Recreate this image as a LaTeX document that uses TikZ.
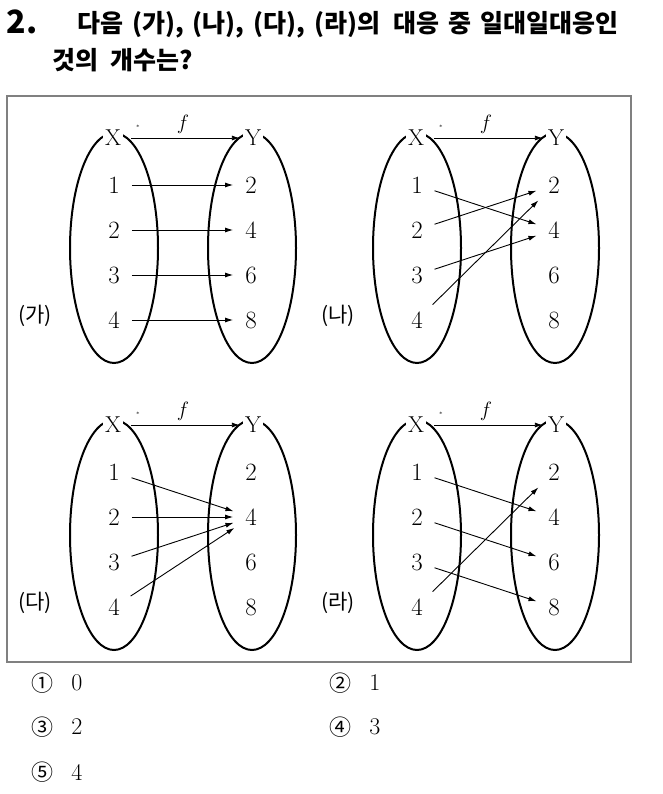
\documentclass[tikz,border=0pt]{standalone}
\usepackage{fontspec}
\newfontfamily\kor{Noto Sans CJK KR}
\usetikzlibrary{arrows.meta}

\tikzset{
	setline/.style={line width=2pt},
	maparrow/.style={-{Latex[length=8pt,width=5pt]}, line width=0.9pt, shorten <=8pt, shorten >=8pt},
	elem/.style={inner sep=4pt, font=\fontsize{23}{23}\selectfont},
	setname/.style={fill=white, inner sep=2pt, font=\fontsize{23}{23}\selectfont},
	question/.style={anchor=west, inner sep=0pt, font=\kor\bfseries\fontsize{25}{25}\selectfont},
}

\begin{document}
\begin{tikzpicture}[x=1pt,y=-1pt]
	\useasboundingbox (0,0) rectangle (662,794);
	\node[font=\kor\bfseries\fontsize{32}{32}\selectfont] (num) at (22,22) {2.};	% question
	\node[question] (q1) at (77,25) {다음\hspace{9pt}(가),\hspace{9pt}(나),\hspace{9pt}(다),\hspace{9pt}(라)의\hspace{13pt}대응\hspace{9pt}중\hspace{9pt}일대일대응인};
	\node[question] (q2) at (52,60) {것의\hspace{12pt}개수는?};

	\draw[gray, line width=1.6pt] (7,96) rectangle (631,662);	% frame

	\foreach \p/\dx/\dy/\lab in {A/0/0/가, B/303/0/나, C/0/287/다, D/303/287/라}
	{
		\draw[setline] (114+\dx,248+\dy) ellipse [x radius=44pt, y radius=115pt];	% sets
		\draw[setline] (252+\dx,248+\dy) ellipse [x radius=44pt, y radius=115pt];
		\node[setname] (\p-X) at (113+\dx,138+\dy) {X};
		\node[setname] (\p-Y) at (253+\dx,138+\dy) {Y};
		\draw[maparrow, shorten >=3pt] (\p-X) -- node[above=1pt, font=\fontsize{22}{22}\selectfont] (\p-f) {$f$} (\p-Y);
		\node[inner sep=0pt, font=\fontsize{6}{6}\selectfont] (\p-s) at (138+\dx,127+\dy) {*};
		\foreach \i/\v in {1/2,2/4,3/6,4/8}
		{
			\node[elem] (\p-x\i) at (114+\dx,140+45*\i+\dy) {$\i$};	% elements
			\node[elem] (\p-y\v) at (251+\dx,140+45*\i+\dy) {$\v$};
		}
		\node[font=\kor\fontsize{21}{21}\selectfont] (\p-lab) at (35+\dx,316+\dy) {(\lab)};
	}

	\foreach \s/\t in {1/2,2/4,3/6,4/8} \draw[maparrow] (A-x\s) -- (A-y\t);	% mappings
	\foreach \s/\t in {1/4,2/2,3/4,4/2} \draw[maparrow] (B-x\s) -- (B-y\t);
	\foreach \s in {1,...,4} \draw[maparrow] (C-x\s) -- (C-y4);
	\foreach \s/\t in {1/4,2/6,3/8,4/2} \draw[maparrow] (D-x\s) -- (D-y\t);

	\foreach \c/\n/\x/\y in {①/0/42/683, ②/1/340/683, ③/2/42/727, ④/3/340/727, ⑤/4/42/772}
	{
		\node[font=\kor\fontsize{22}{22}\selectfont] (c\n) at (\x,\y) {\c};	% choices
		\node[font=\fontsize{24}{24}\selectfont] (a\n) at (\x+35,\y) {\n};
	}
\end{tikzpicture}
\end{document}
